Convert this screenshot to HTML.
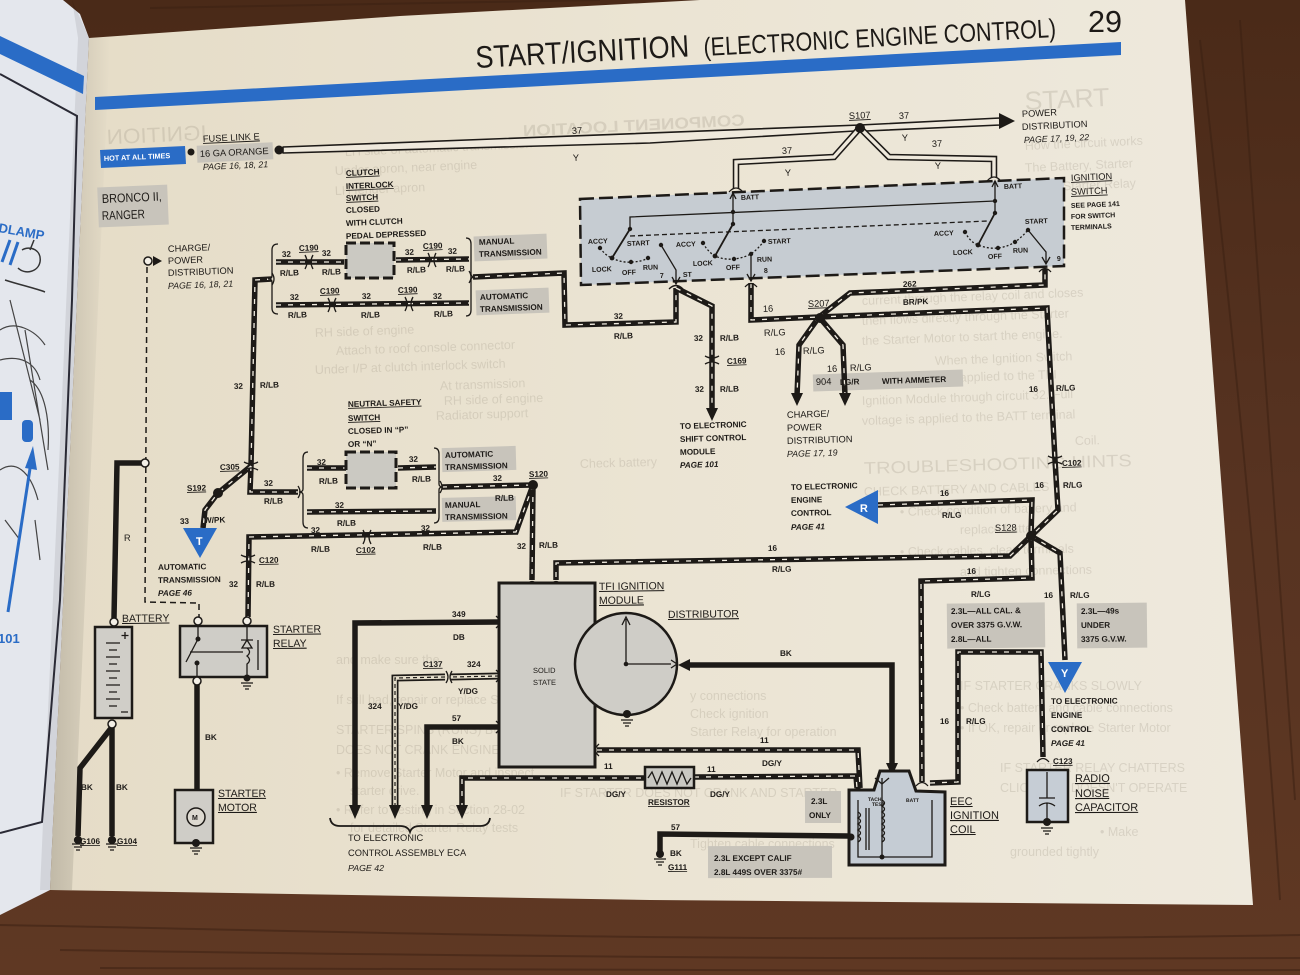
<!DOCTYPE html>
<html><head><meta charset="utf-8">
<style>
html,body{margin:0;padding:0;width:1300px;height:975px;overflow:hidden;background:#573420}
svg{display:block}
text{font-family:"Liberation Sans",Arial,sans-serif;fill:#1d1a17}
#lbl text{font-size:8.2px;font-weight:bold}
#lbl text.r{font-weight:normal;font-size:9.3px}
#lbl text.b{font-weight:normal;font-size:10.5px}
#lbl text.i{font-style:italic;font-weight:bold}
#lbl text.ri{font-style:italic;font-weight:normal;font-size:8.8px}
#lbl text.sm{font-size:7px}
#lbl text.w{fill:#fff}
#ghost text{font-size:12.5px;fill:#968d7d;opacity:0.24}
.u{text-decoration:underline}
.s{fill:none;stroke:#1d1a17;stroke-width:5.5;stroke-linejoin:miter}
.sd{fill:none;stroke:#f2ede2;stroke-width:1.3;stroke-dasharray:5 7}
.k{fill:none;stroke:#1d1a17;stroke-width:5.5;stroke-linejoin:miter}
.t{fill:none;stroke:#1d1a17;stroke-width:1.3}
.gb{fill:#c8c4bb}
.dot{fill:#1d1a17}
.tc{fill:#f3efe6;stroke:#1d1a17;stroke-width:1.5}
</style></head>
<body>
<svg width="1300" height="975" viewBox="0 0 1300 975" xmlns="http://www.w3.org/2000/svg">
<defs>
<linearGradient id="pg" x1="0" y1="0" x2="1" y2="0">
<stop offset="0" stop-color="#e5dcc7"/><stop offset="0.5" stop-color="#ebe4d3"/><stop offset="1" stop-color="#eee9dd"/>
</linearGradient>
<linearGradient id="gut" x1="0" y1="0" x2="1" y2="0">
<stop offset="0" stop-color="#000" stop-opacity="0.16"/><stop offset="1" stop-color="#000" stop-opacity="0"/>
</linearGradient>
<linearGradient id="wood" x1="0" y1="0" x2="0" y2="1">
<stop offset="0" stop-color="#4a2a18"/><stop offset="0.5" stop-color="#573321"/><stop offset="1" stop-color="#5f3823"/>
</linearGradient>
<path id="a1" d="M272,279 L255,280 L251,466"/>
<path id="a2" d="M251,466 L250,492 L298,492"/>
<path id="a3" d="M251,466 L218,493 L205,510 L203,528"/>
<path id="a4" d="M276,262 L344,262"/>
<path id="a5" d="M396,260 L469,259"/>
<path id="a6" d="M276,305 L469,303"/>
<path id="a7" d="M473,277 L564,273 L565,325 L676,322 L676,288"/>
<path id="a8" d="M676,288 L712,306 L712,410"/>
<path id="a9" d="M751,283 L751,320 L819,317"/>
<path id="a10" d="M819,317 L850,293 L1045,285 L1045,269"/>
<path id="a11" d="M819,317 L1047,308 L1055,460 L1058,510 L1031,536"/>
<path id="a12" d="M819,317 L799,345 L797,396"/>
<path id="a13" d="M819,317 L843,345 L845,396"/>
<path id="a14" d="M878,505 L1032,500 L1031,536"/>
<path id="a15" d="M1031,536 L1010,556 L556,563 L556,580"/>
<path id="a16" d="M1031,536 L1032,578 L921,581 L922,782"/>
<path id="a17" d="M1031,536 L1060,553 L1065,660"/>
<path id="a18" d="M930,783 L958,782 L958,652 L1041,652 L1043,757"/>
<path id="a19" d="M307,468 L346,468"/>
<path id="a20" d="M398,468 L436,467"/>
<path id="a21" d="M307,512 L436,511"/>
<path id="a22" d="M442,487 L533,485"/>
<path id="a23" d="M533,485 L516,532 L249,537 L248,617"/>
<path id="a24" d="M533,485 L532,580"/>
<path id="a25" d="M597,750 L858,750 L860,788"/>
<path id="a26" d="M462,808 L462,778 L645,778"/>
<path id="a27" d="M694,777 L856,776 L857,788"/>
<path id="h1" d="M499,676 L451,677 M445,677 L395,678 L395,808"/>
<path id="y2" d="M858,130 L834,157 L736,162 L736,189"/>
<path id="y3" d="M862,130 L889,157 L994,159 L994,178"/>
</defs>

<!-- background wood -->
<rect x="0" y="0" width="1300" height="975" fill="url(#wood)"/>
<g stroke="#3a2012" stroke-width="2" opacity="0.5" fill="none">
<path d="M0,925 C300,930 700,945 1300,935"/><path d="M60,950 C400,955 800,960 1300,958"/>
<path d="M100,968 C500,970 900,972 1300,970"/><path d="M1200,40 C1230,300 1260,600 1280,900"/>
<path d="M1240,20 C1255,250 1275,500 1295,800"/><path d="M150,8 C300,4 450,2 600,0"/>
</g>
<!-- left page -->
<path d="M0,0 L63,0 L80,14 L89,38 L50,890 L0,915 Z" fill="#e4e7ed"/>
<path d="M72,0 L89,38 L50,890 L40,890 L78,38 Z" fill="#000" opacity="0.08"/>
<polygon points="0,36 84,76 83,94 0,54" fill="#2a6cc6"/>
<path d="M0,74 L77,116 L72,300 L60,600 L42,822 L0,833" fill="none" stroke="#2a2a35" stroke-width="2"/>
<text x="-2" y="232" font-size="13" font-weight="bold" style="fill:#2a6cc6" transform="rotate(10 -2 232)">DLAMP</text>
<path d="M10,240 L2,262 M18,242 L10,265" stroke="#2a6cc6" stroke-width="3"/>
<path d="M22,250 C30,245 42,250 40,262 C38,272 25,275 18,268 M30,250 L34,240 M5,280 C20,285 35,288 45,292" fill="none" stroke="#333" stroke-width="1.5"/>
<path d="M0,330 C15,320 35,330 45,345 M0,360 C20,355 35,362 40,380 M10,300 L40,420 M25,330 L48,470 M0,470 C15,460 30,470 38,500 M30,380 C45,390 50,420 48,450 M5,520 L20,540 M35,520 L40,560" fill="none" stroke="#444" stroke-width="1.2"/>
<rect x="0" y="392" width="12" height="28" fill="#2a6cc6"/>
<rect x="22" y="420" width="11" height="22" rx="4" fill="#2a6cc6"/>
<path d="M8,612 L31,462" stroke="#2a6cc6" stroke-width="3"/>
<polygon points="25,468 33,446 37,470" fill="#2a6cc6"/>
<text x="-2" y="643" font-size="13" font-weight="bold" style="fill:#2a6cc6">101</text>
<!-- main page -->
<path d="M89,38 L400,16 L700,0 L1185,0 L1253,905 L650,900 L50,890 Z" fill="url(#pg)"/>
<path d="M89,38 L110,37 L72,890 L50,890 Z" fill="url(#gut)"/>

<!-- ghost bleed-through text -->
<g id="ghost">
<text x="0" y="0" style="font-size:16px;font-weight:bold" textLength="222" lengthAdjust="spacingAndGlyphs" transform="translate(0,131) rotate(-2.8 632 0) matrix(-1 0 0 1 745 0)">COMPONENT LOCATION</text>
<text x="0" y="0" style="font-size:21px" textLength="100" lengthAdjust="spacingAndGlyphs" transform="translate(0,142) rotate(-2.6 157 0) matrix(-1 0 0 1 207 0)">IGNITION</text>
<text x="1025" y="110" style="font-size:26px" textLength="85" lengthAdjust="spacingAndGlyphs" transform="rotate(-2.8 1025 110)">START</text>
<text x="1025" y="150" transform="rotate(-2.6 1025 150)">How the circuit works</text>
<text x="1025" y="172" transform="rotate(-2.5 1025 172)">The Battery, Starter</text>
<text x="1025" y="192" transform="rotate(-2.5 1025 192)">Motor, Starter Relay</text>
<text x="345" y="156" transform="rotate(-2.5 345 156)">LH side of automatic transmission</text>
<text x="335" y="175" transform="rotate(-2.5 335 175)">Under apron, near engine</text>
<text x="335" y="195" transform="rotate(-2.4 335 195)">LH fender apron</text>
<text x="862" y="305" transform="rotate(-2.2 862 305)">current through the relay coil and closes</text>
<text x="862" y="325" transform="rotate(-2.1 862 325)">then flows directly through the Starter</text>
<text x="862" y="345" transform="rotate(-2.1 862 345)">the Starter Motor to start the engine.</text>
<text x="935" y="365" transform="rotate(-2.0 935 365)">When the Ignition Switch</text>
<text x="862" y="385" transform="rotate(-1.9 862 385)">battery voltage is applied to the TFI</text>
<text x="862" y="405" transform="rotate(-1.9 862 405)">Ignition Module through circuit 32. Full</text>
<text x="862" y="425" transform="rotate(-1.8 862 425)">voltage is applied to the BATT terminal</text>
<text x="1075" y="445" transform="rotate(-1.8 1075 445)">Coil.</text>
<text x="864" y="474" style="font-size:17px" textLength="268" lengthAdjust="spacingAndGlyphs" transform="rotate(-1.7 864 474)">TROUBLESHOOTING HINTS</text>
<text x="864" y="496" transform="rotate(-1.6 864 496)">CHECK BATTERY AND CABLES</text>
<text x="900" y="516" transform="rotate(-1.5 900 516)">• Check condition of battery and</text>
<text x="960" y="534" transform="rotate(-1.4 960 534)">replace battery</text>
<text x="900" y="556" transform="rotate(-1.1 900 556)">• Check cables, clean terminals</text>
<text x="960" y="576" transform="rotate(-1.0 960 576)">and tighten connections</text>
<text x="315" y="337" transform="rotate(-2.0 315 337)">      RH side of engine</text>
<text x="336" y="355" transform="rotate(-2.0 336 355)">Attach to roof console connector</text>
<text x="315" y="374" transform="rotate(-1.9 315 374)">Under I/P at clutch interlock switch</text>
<text x="440" y="390" transform="rotate(-1.9 440 390)">At transmission</text>
<text x="444" y="405" transform="rotate(-1.8 444 405)">RH side of engine</text>
<text x="436" y="420" transform="rotate(-1.8 436 420)">Radiator support</text>
<text x="580" y="468" transform="rotate(-1.6 580 468)">Check battery</text>
<text x="336" y="664">and make sure the</text>
<text x="336" y="704">If still bad, repair or replace Starter</text>
<text x="336" y="734">STARTER SPINS (RUNS) BUT NOISE</text>
<text x="336" y="754">DOES NOT CRANK ENGINE</text>
<text x="336" y="777">• Remove Starter Motor and inspect</text>
<text x="350" y="795">starter drive.</text>
<text x="336" y="814">• Refer to Testing in Section 28-02</text>
<text x="350" y="832">for detailed Starter Relay tests</text>
<text x="690" y="700">y connections</text>
<text x="690" y="718">Check ignition</text>
<text x="690" y="736">Starter Relay for operation</text>
<text x="560" y="797">IF STARTER DOES NOT CRANK AND STARTER</text>
<text x="690" y="848">Tighten cable connections</text>
<text x="960" y="690">IF STARTER CRANKS SLOWLY</text>
<text x="960" y="712">• Check battery and cable connections</text>
<text x="960" y="732">• If OK, repair or replace Starter Motor</text>
<text x="1000" y="772">IF STARTER RELAY CHATTERS</text>
<text x="1000" y="792">CLICKS OR DOESN'T OPERATE</text>
<text x="1100" y="836">• Make</text>
<text x="1010" y="856">grounded tightly</text>
</g>

<!-- header -->
<polygon points="95,97 1121,42 1121,55 95,110" fill="#2a6cc6"/>
<text x="476" y="68" font-size="31" textLength="214" lengthAdjust="spacingAndGlyphs" transform="rotate(-3.1 476 68)">START/IGNITION</text>
<text x="704" y="56" font-size="26" textLength="353" lengthAdjust="spacingAndGlyphs" transform="rotate(-3.1 704 56)">(ELECTRONIC ENGINE CONTROL)</text>
<text x="1088" y="32" font-size="31" textLength="34" lengthAdjust="spacingAndGlyphs">29</text>

<!-- gray label boxes -->
<g id="gbx">
<rect class="gb" x="197" y="144" width="76" height="17"/>
<rect class="gb" x="98" y="186" width="70" height="40"/>
<rect class="gb" x="474" y="235" width="73" height="25"/>
<rect class="gb" x="476" y="289" width="73" height="25"/>
<rect class="gb" x="813" y="372" width="150" height="17"/>
<rect class="gb" x="442" y="447" width="74" height="24"/>
<rect class="gb" x="442" y="497" width="74" height="24"/>
<rect class="gb" x="947" y="603" width="98" height="45"/>
<rect class="gb" x="1077" y="603" width="70" height="45"/>
<rect class="gb" x="805" y="791" width="36" height="32"/>
<rect class="gb" x="708" y="846" width="124" height="32"/>
</g>

<!-- hot at all times -->
<polygon points="100,150 185,146 186,164 101,168" fill="#2a6cc6"/>
<circle class="dot" cx="191" cy="152" r="3.5"/>

<!-- ignition switch box -->
<polygon points="580,199 1064,178 1064,266 581,285" fill="#c6ccd2" stroke="#1d1a17" stroke-width="2.5" stroke-dasharray="14 5"/>
<g class="t">
<path d="M630,229 L630,217 L995,201"/>
<path d="M733,193 L733,224 M995,181 L995,213"/>
<path d="M630,236 L988,221" stroke-dasharray="5 3"/>
<path d="M612,258 L630,229 M715,256 L733,224 M978,245 L995,213" stroke-width="1.8"/>
<path d="M600,248 Q606,256 612,258 Q622,263 631,262 Q641,262 648,258" stroke-dasharray="2 2"/>
<path d="M703,243 Q708,252 715,256 Q724,260 734,259 Q743,258 751,254 Q758,249 764,241" stroke-dasharray="2 2"/>
<path d="M965,232 Q970,242 978,245 Q988,249 998,248 Q1007,247 1015,242 Q1022,237 1028,230" stroke-dasharray="2 2"/>
<path d="M661,245 L676,270 L676,283 M672,277 L676,284 L680,277"/>
<path d="M751,254 L751,280 M747,274 L751,281 L755,274"/>
<path d="M1028,230 L1046,252 L1046,263 M1042,257 L1046,264 L1050,257"/>
<path d="M730,199 L733,193 L736,199 M992,187 L995,181 L998,187"/>
</g>
<g class="dot">
<circle cx="733" cy="212" r="2.2"/><circle cx="733" cy="224" r="2.2"/><circle cx="995" cy="201" r="2.2"/><circle cx="995" cy="213" r="2.2"/>
<circle cx="630" cy="229" r="2.2"/><circle cx="612" cy="258" r="2.4"/><circle cx="600" cy="248" r="2.2"/><circle cx="631" cy="262" r="2.2"/><circle cx="648" cy="258" r="2.2"/><circle cx="661" cy="245" r="2.2"/>
<circle cx="703" cy="243" r="2.2"/><circle cx="715" cy="256" r="2.4"/><circle cx="734" cy="259" r="2.2"/><circle cx="751" cy="254" r="2.2"/><circle cx="764" cy="241" r="2.2"/>
<circle cx="965" cy="232" r="2.2"/><circle cx="978" cy="245" r="2.4"/><circle cx="998" cy="248" r="2.2"/><circle cx="1015" cy="242" r="2.2"/><circle cx="1028" cy="230" r="2.2"/>
</g>

<!-- hollow 37 Y wires -->
<polygon points="283,147 860,125 1000,118 1000,125 866,131 855,131 650,143 283,153" fill="#efe9dc" stroke="#1d1a17" stroke-width="1.6" stroke-linejoin="round"/>
<g fill="none" stroke="#1d1a17" stroke-width="6.5"><use href="#y2"/><use href="#y3"/></g>
<g fill="none" stroke="#efe9dc" stroke-width="3.4"><use href="#y2"/><use href="#y3"/></g>
<polygon points="999,113 1015,121 999,129" fill="#1d1a17"/>
<circle class="dot" cx="860" cy="128" r="5"/>
<circle class="dot" cx="279" cy="150" r="4.5"/>
<path class="t" d="M729,192 Q736,184 743,192 M987,181 Q994,173 1001,181" stroke-width="2"/>

<!-- striped wires -->
<g class="s">
<use href="#a1"/><use href="#a2"/><use href="#a3"/><use href="#a4"/><use href="#a5"/><use href="#a6"/><use href="#a7"/><use href="#a8"/><use href="#a9"/><use href="#a10"/><use href="#a11"/><use href="#a12"/><use href="#a13"/><use href="#a14"/><use href="#a15"/><use href="#a16"/><use href="#a17"/><use href="#a18"/><use href="#a19"/><use href="#a20"/><use href="#a21"/><use href="#a22"/><use href="#a23"/><use href="#a24"/><use href="#a25"/><use href="#a26"/><use href="#a27"/>
</g>
<g class="sd">
<use href="#a1"/><use href="#a2"/><use href="#a3"/><use href="#a4"/><use href="#a5"/><use href="#a6"/><use href="#a7"/><use href="#a8"/><use href="#a9"/><use href="#a10"/><use href="#a11"/><use href="#a12"/><use href="#a13"/><use href="#a14"/><use href="#a15"/><use href="#a16"/><use href="#a17"/><use href="#a18"/><use href="#a19"/><use href="#a20"/><use href="#a21"/><use href="#a22"/><use href="#a23"/><use href="#a24"/><use href="#a25"/><use href="#a26"/><use href="#a27"/>
</g>
<!-- hatched Y/DG -->
<g fill="none"><use href="#h1" stroke="#1d1a17" stroke-width="7"/><use href="#h1" stroke="#e6dfcc" stroke-width="3.6"/><use href="#h1" stroke="#1d1a17" stroke-width="1.2" stroke-dasharray="4 3"/></g>

<!-- solid black wires -->
<g class="k">
<path d="M499,622 L355,623 L355,808"/>
<path d="M499,727 L427,727 L427,808"/>
<path d="M688,665 L892,665 L892,766"/>
<path d="M848,836 L660,834 L660,852"/>
<path d="M114,618 L117,463 L142,463"/>
<path d="M112,727 L112,836 M112,727 L80,768 L78,836"/>
<path d="M197,684 L197,790"/>
</g>
<!-- dashed thin -->
<path d="M147,267 L145,602 L199,603 L199,617" fill="none" stroke="#1d1a17" stroke-width="1.5" stroke-dasharray="6 4"/>

<!-- arrowheads -->
<g fill="#1d1a17">
<polygon points="706,408 718,408 712,421"/>
<polygon points="791,393 803,393 797,406"/>
<polygon points="839,393 851,393 845,406"/>
<polygon points="349,805 361,805 355,819"/>
<polygon points="389,805 401,805 395,819"/>
<polygon points="421,805 433,805 427,819"/>
<polygon points="456,805 468,805 462,819"/>
<polygon points="886,763 898,763 892,776"/>
<polygon points="690,659 690,671 678,665"/>
<polygon points="153,256 162,261 153,266"/>
</g>

<!-- connectors -->
<g class="t" stroke-width="2">
<path d="M305,255 Q309,262 305,269 M313,255 Q309,262 313,269"/>
<path d="M428,253 Q432,260 428,267 M436,253 Q432,260 436,267"/>
<path d="M328,298 Q332,305 328,312 M336,298 Q332,305 336,312"/>
<path d="M405,297 Q409,304 405,311 M413,297 Q409,304 413,311"/>
<path d="M363,530 Q367,537 363,544 M371,530 Q367,537 371,544"/>
<path d="M241,555 Q248,559 255,555 M241,563 Q248,559 255,563"/>
<path d="M244,462 Q251,466 258,462 M244,470 Q251,466 258,470"/>
<path d="M705,356 Q712,360 719,356 M705,364 Q712,360 719,364"/>
<path d="M1048,456 Q1055,460 1062,456 M1048,464 Q1055,460 1062,464"/>
<path d="M446,671 Q450,677 446,683 M452,671 Q448,677 452,683"/>
<path d="M526,585 Q532,578 538,585 M550,585 Q556,578 562,585 M669,289 Q676,282 683,289 M745,287 Q751,280 757,287 M1039,272 Q1045,265 1051,272 M1037,762 Q1043,755 1049,762 M851,792 Q858,785 865,792 M916,786 Q922,779 928,786"/>
<path d="M496,616 Q503,622 496,628 M496,670 Q503,676 496,682 M496,721 Q503,727 496,733 M599,744 Q592,750 599,756"/>
<path d="M272,273 Q276,279 272,285 M469,271 Q473,277 469,283"/>
<path d="M298,486 Q302,492 298,498 M440,481 Q444,487 440,493"/>
</g>
<!-- brackets -->
<g class="t">
<path d="M278,244 Q272,244 272,250 L272,276 Q272,279 268,279 Q272,279 272,282 L272,308 Q272,314 278,314"/>
<path d="M466,238 Q471,238 471,244 L471,274 Q471,277 475,277 Q471,277 471,280 L471,310 Q471,316 466,316"/>
<path d="M308,452 Q303,452 303,458 L303,489 Q303,492 299,492 Q303,492 303,495 L303,522 Q303,528 308,528"/>
<path d="M434,448 Q439,448 439,454 L439,484 Q439,487 443,487 Q439,487 439,490 L439,517 Q439,523 434,523"/>
<path d="M330,818 Q331,826 340,826 L400,826 Q408,826 410,832 Q412,826 420,826 L480,826 Q489,826 490,818" stroke-width="1.8"/>
</g>

<!-- splice dots -->
<g class="dot">
<circle cx="820" cy="318" r="5"/><circle cx="1031" cy="536" r="5"/><circle cx="533" cy="485" r="5"/><circle cx="218" cy="493" r="5"/>
</g>

<!-- switches -->
<rect x="346" y="243" width="48" height="35" fill="#cbc9c2" stroke="#1d1a17" stroke-width="3" stroke-dasharray="10 4"/>
<rect x="346" y="452" width="50" height="36" fill="#cbc9c2" stroke="#1d1a17" stroke-width="3" stroke-dasharray="10 4"/>

<!-- blue triangles -->
<polygon points="183,528 217,528 200,558" fill="#2a6cc6"/>
<polygon points="845,507 878,490 878,524" fill="#2a6cc6"/>
<polygon points="1048,662 1082,662 1065,693" fill="#2a6cc6"/>

<!-- TFI module & distributor -->
<rect x="499" y="583" width="96" height="184" fill="#cfcdc7" stroke="#1d1a17" stroke-width="3"/>
<circle cx="626" cy="664" r="51" fill="#cfcdc7" stroke="#1d1a17" stroke-width="2.5"/>
<g class="t"><path d="M626,664 L626,619 M622,625 L626,617 L630,625 M626,664 L671,664"/><path d="M671,660 L677,664 L671,668"/></g>
<circle class="dot" cx="626" cy="664" r="2.3"/>
<circle class="dot" cx="627" cy="714" r="4"/>
<!-- battery -->
<rect x="95" y="627" width="37" height="91" fill="#d0cec8" stroke="#1d1a17" stroke-width="2.5"/>
<g class="t" stroke-width="1.6">
<path d="M106,643 h14 M109,650 h8 M106,657 h14 M109,664 h8 M106,671 h14 M109,678 h8 M106,685 h14 M109,692 h8 M106,699 h14 M109,706 h8"/>
<path d="M125,632 v7 M121.5,635.5 h7 M121,712 h7"/>
</g>
<circle class="tc" cx="114" cy="622" r="4"/><circle class="tc" cx="112" cy="724" r="4"/><circle class="tc" cx="145" cy="463" r="4"/><circle class="tc" cx="148" cy="261" r="4"/>
<!-- starter relay -->
<rect x="180" y="626" width="87" height="51" fill="#cfcdc7" stroke="#1d1a17" stroke-width="2.5"/>
<g class="t">
<path d="M198,625 L198,639 M198,639 L186,662 M197,663 L197,677 M190,652 L243,652" />
<path d="M247,625 L247,640 M241,640 L253,640 M247,640 L242,648 L252,648 Z M247,648 Q252,652 247,656 Q252,660 247,664 L247,677 M258,640 L258,670"/>
</g>
<circle class="dot" cx="198" cy="639" r="2.5"/><circle class="dot" cx="197" cy="663" r="2.5"/><circle class="dot" cx="247" cy="678" r="3.5"/>
<circle class="tc" cx="198" cy="621" r="4"/><circle class="tc" cx="247" cy="621" r="4"/><circle class="tc" cx="197" cy="681" r="4"/>
<!-- starter motor -->
<rect x="175" y="790" width="38" height="53" fill="#cfcdc7" stroke="#1d1a17" stroke-width="2.5"/>
<circle cx="196" cy="817" r="9" fill="#ddd9d0" stroke="#1d1a17" stroke-width="1.5"/>
<text x="192" y="820" font-size="7" font-weight="bold">M</text>
<circle class="dot" cx="196" cy="843" r="4"/>
<!-- resistor -->
<rect x="645" y="767" width="49" height="21" fill="#c9c8c2" stroke="#1d1a17" stroke-width="2.5"/>
<polyline points="648,778 652,772 657,784 662,772 667,784 672,772 677,784 682,772 687,784 691,778" class="t" stroke-width="1.5"/>
<!-- capacitor -->
<rect x="1027" y="770" width="41" height="52" fill="#c6cdd5" stroke="#1d1a17" stroke-width="2.5"/>
<g class="t"><path d="M1047,772 L1047,798 M1039,798 h16 M1039,806 Q1047,800 1055,806 M1047,803 L1047,820"/></g>
<circle class="dot" cx="1047" cy="822" r="4"/>
<!-- ignition coil -->
<path d="M849,790 L874,790 L880,771 L909,771 L916,791 L945,792 L945,865 L849,865 Z" fill="#c5ccd4" stroke="#1d1a17" stroke-width="3"/>
<g class="t">
<path d="M858,800 L858,857 L932,857 L932,800 M882,778 L882,857"/>
<path d="M858,812 q5,3 0,6 q5,3 0,6 q5,3 0,6 q5,3 0,6 q5,3 0,6"/>
<path d="M882,800 q5,3 0,6 q5,3 0,6 q5,3 0,6 q5,3 0,6 q5,3 0,6 q5,3 0,6 q5,3 0,6"/>
<path d="M866,808 L866,850 M869,808 L869,850"/>
<path d="M875,778 L882,784 L889,778"/>
</g>
<circle class="dot" cx="851" cy="837" r="3.5"/><circle class="dot" cx="882" cy="857" r="2.5"/>
<circle class="dot" cx="660" cy="854" r="4"/>
<!-- grounds -->
<g class="t" stroke-width="1.4">
<path d="M72,844 h12 M74,847 h8 M76,850 h4"/><path d="M106,844 h12 M108,847 h8 M110,850 h4"/>
<circle class="dot" cx="78" cy="840" r="3.5"/><circle class="dot" cx="112" cy="840" r="3.5"/>
<path d="M241,683 h12 M243,686 h8 M245,689 h4"/>
<path d="M190,848 h12 M192,851 h8 M194,854 h4"/>
<path d="M621,720 h12 M623,723 h8 M625,726 h4"/>
<path d="M1041,828 h12 M1043,831 h8 M1045,834 h4"/>
<path d="M654,859 h12 M656,862 h8 M658,865 h4"/>
</g>

<!-- labels -->
<g id="lbl">
<text x="104" y="161" class="w" style="font-size:7.3px">HOT AT ALL TIMES</text>
<text x="203" y="142" class="r u">FUSE LINK E</text>
<text x="200" y="157" class="r">16 GA ORANGE</text>
<text x="203" y="170" class="ri">PAGE 16, 18, 21</text>
<text x="572" y="134" class="r">37</text><text x="573" y="161" class="r">Y</text>
<text x="849" y="119" class="r u">S107</text>
<text x="899" y="119" class="r">37</text><text x="902" y="141" class="r">Y</text>
<text x="782" y="154" class="r">37</text><text x="785" y="176" class="r">Y</text>
<text x="932" y="147" class="r">37</text><text x="935" y="169" class="r">Y</text>
<text x="1022" y="117" class="r">POWER</text>
<text x="1022" y="130" class="r">DISTRIBUTION</text>
<text x="1024" y="143" class="ri">PAGE 17, 19, 22</text>
<text x="1071" y="181" class="r u">IGNITION</text>
<text x="1071" y="195" class="r u">SWITCH</text>
<text x="1071" y="208" class="sm">SEE PAGE 141</text>
<text x="1071" y="219" class="sm">FOR SWITCH</text>
<text x="1071" y="230" class="sm">TERMINALS</text>
<text x="102" y="203" style="font-size:12.5px;font-weight:normal" textLength="60" lengthAdjust="spacingAndGlyphs">BRONCO II,</text>
<text x="102" y="220" style="font-size:12.5px;font-weight:normal" textLength="43" lengthAdjust="spacingAndGlyphs">RANGER</text>
<text x="168" y="252" class="r">CHARGE/</text>
<text x="168" y="264" class="r">POWER</text>
<text x="168" y="276" class="r">DISTRIBUTION</text>
<text x="168" y="289" class="ri">PAGE 16, 18, 21</text>
<text x="346" y="176" class="u">CLUTCH</text>
<text x="346" y="189" class="u">INTERLOCK</text>
<text x="346" y="201" class="u">SWITCH</text>
<text x="346" y="213">CLOSED</text>
<text x="346" y="226">WITH CLUTCH</text>
<text x="346" y="239">PEDAL DEPRESSED</text>
<text x="282" y="257">32</text><text x="299" y="251" class="u">C190</text><text x="322" y="256">32</text>
<text x="280" y="276">R/LB</text><text x="322" y="275">R/LB</text>
<text x="405" y="255">32</text><text x="423" y="249" class="u">C190</text><text x="448" y="254">32</text>
<text x="407" y="273">R/LB</text><text x="446" y="272">R/LB</text>
<text x="290" y="300">32</text><text x="320" y="294" class="u">C190</text><text x="362" y="299">32</text><text x="398" y="293" class="u">C190</text><text x="433" y="299">32</text>
<text x="288" y="318">R/LB</text><text x="361" y="318">R/LB</text><text x="434" y="317">R/LB</text>
<text x="479" y="245">MANUAL</text><text x="479" y="257">TRANSMISSION</text>
<text x="480" y="300">AUTOMATIC</text><text x="480" y="312">TRANSMISSION</text>
<text x="614" y="319">32</text><text x="614" y="339">R/LB</text>
<text x="588" y="244" class="sm">ACCY</text><text x="627" y="246" class="sm">START</text><text x="592" y="272" class="sm">LOCK</text><text x="622" y="275" class="sm">OFF</text><text x="643" y="270" class="sm">RUN</text><text x="660" y="278" class="sm">7</text><text x="683" y="277" class="sm">ST</text>
<text x="676" y="247" class="sm">ACCY</text><text x="768" y="244" class="sm">START</text><text x="693" y="266" class="sm">LOCK</text><text x="726" y="270" class="sm">OFF</text><text x="757" y="262" class="sm">RUN</text><text x="764" y="273" class="sm">8</text>
<text x="934" y="236" class="sm">ACCY</text><text x="1025" y="224" class="sm">START</text><text x="953" y="255" class="sm">LOCK</text><text x="988" y="259" class="sm">OFF</text><text x="1013" y="253" class="sm">RUN</text><text x="1057" y="261" class="sm">9</text>
<text x="741" y="200" class="sm">BATT</text><text x="1004" y="189" class="sm">BATT</text>
<text x="694" y="341">32</text><text x="720" y="341">R/LB</text><text x="727" y="364" class="u">C169</text><text x="695" y="392">32</text><text x="720" y="392">R/LB</text>
<text x="680" y="429">TO ELECTRONIC</text><text x="680" y="442">SHIFT CONTROL</text><text x="680" y="455">MODULE</text><text x="680" y="468" class="i">PAGE 101</text>
<text x="808" y="307" class="r u">S207</text><text x="763" y="312" class="r">16</text><text x="764" y="336" class="r">R/LG</text>
<text x="903" y="287">262</text><text x="903" y="305">BR/PK</text>
<text x="775" y="355" class="r">16</text><text x="803" y="354" class="r">R/LG</text><text x="827" y="372" class="r">16</text><text x="850" y="371" class="r">R/LG</text>
<text x="816" y="385" class="r">904</text><text x="840" y="385">LG/R</text><text x="882" y="384">WITH AMMETER</text>
<text x="787" y="418" class="r">CHARGE/</text><text x="787" y="431" class="r">POWER</text><text x="787" y="444" class="r">DISTRIBUTION</text><text x="787" y="457" class="ri">PAGE 17, 19</text>
<text x="1029" y="392">16</text><text x="1056" y="391">R/LG</text><text x="1062" y="466" class="u">C102</text><text x="1035" y="488">16</text><text x="1063" y="488">R/LG</text>
<text x="791" y="490">TO ELECTRONIC</text><text x="791" y="503">ENGINE</text><text x="791" y="516">CONTROL</text><text x="791" y="530" class="i">PAGE 41</text>
<text x="940" y="496">16</text><text x="942" y="518">R/LG</text><text x="995" y="531" class="r u">S128</text>
<text x="768" y="551">16</text><text x="772" y="572">R/LG</text>
<text x="967" y="574">16</text><text x="971" y="597">R/LG</text><text x="1044" y="598">16</text><text x="1070" y="598">R/LG</text>
<text x="951" y="614">2.3L—ALL CAL. &amp;</text><text x="951" y="628">OVER 3375 G.V.W.</text><text x="951" y="642">2.8L—ALL</text>
<text x="1081" y="614">2.3L—49s</text><text x="1081" y="628">UNDER</text><text x="1081" y="642">3375 G.V.W.</text>
<text x="1051" y="704">TO ELECTRONIC</text><text x="1051" y="718">ENGINE</text><text x="1051" y="732">CONTROL</text><text x="1051" y="746" class="i">PAGE 41</text>
<text x="1053" y="764" class="u">C123</text>
<text x="1075" y="782" class="b u" style="font-size:11px">RADIO</text><text x="1075" y="797" class="b u" style="font-size:11px">NOISE</text><text x="1075" y="811" class="b u" style="font-size:11px">CAPACITOR</text>
<text x="950" y="805" class="b u" style="font-size:11px">EEC</text><text x="950" y="819" class="b u" style="font-size:11px">IGNITION</text><text x="950" y="833" class="b u" style="font-size:11px">COIL</text>
<text x="940" y="724">16</text><text x="966" y="724">R/LG</text>
<text x="780" y="656">BK</text>
<text x="868" y="801" style="font-size:5px">TACH</text><text x="872" y="806" style="font-size:5px">TEST</text><text x="906" y="802" style="font-size:5px">BATT</text>
<text x="811" y="804">2.3L</text><text x="809" y="818">ONLY</text>
<text x="671" y="830">57</text><text x="670" y="856">BK</text><text x="668" y="870" class="u">G111</text>
<text x="714" y="861">2.3L EXCEPT CALIF</text><text x="714" y="875">2.8L 449S OVER 3375#</text>
<text x="760" y="743">11</text><text x="762" y="766">DG/Y</text><text x="707" y="772">11</text><text x="710" y="797">DG/Y</text><text x="604" y="769">11</text><text x="606" y="797">DG/Y</text>
<text x="648" y="805" class="u">RESISTOR</text>
<text x="599" y="590" class="b u">TFI IGNITION</text><text x="599" y="604" class="b u">MODULE</text><text x="668" y="618" class="b u">DISTRIBUTOR</text>
<text x="533" y="673" class="r" style="font-size:7.5px">SOLID</text><text x="533" y="685" class="r" style="font-size:7.5px">STATE</text>
<text x="517" y="549">32</text><text x="539" y="548">R/LB</text>
<text x="452" y="617">349</text><text x="453" y="640">DB</text><text x="423" y="667" class="u">C137</text><text x="467" y="667">324</text><text x="458" y="694">Y/DG</text>
<text x="368" y="709">324</text><text x="398" y="709">Y/DG</text><text x="452" y="721">57</text><text x="452" y="744">BK</text>
<text x="348" y="841" class="r">TO ELECTRONIC</text><text x="348" y="856" class="r">CONTROL  ASSEMBLY  ECA</text><text x="348" y="871" class="ri">PAGE 42</text>
<text x="122" y="622" class="b u">BATTERY</text><text x="124" y="541" class="r">R</text>
<text x="81" y="790">BK</text><text x="116" y="790">BK</text><text x="80" y="844" class="u">G106</text><text x="117" y="844" class="u">G104</text>
<text x="273" y="633" class="b u">STARTER</text><text x="273" y="647" class="b u">RELAY</text><text x="205" y="740">BK</text>
<text x="218" y="797" class="b u">STARTER</text><text x="218" y="811" class="b u">MOTOR</text>
<text x="158" y="570">AUTOMATIC</text><text x="158" y="583">TRANSMISSION</text><text x="158" y="596" class="i">PAGE 46</text>
<text x="180" y="524">33</text><text x="204" y="523">W/PK</text><text x="187" y="491" class="u">S192</text><text x="220" y="470" class="u">C305</text>
<text x="234" y="389">32</text><text x="260" y="388">R/LB</text>
<text x="264" y="486">32</text><text x="264" y="504">R/LB</text>
<text x="259" y="563" class="u">C120</text><text x="229" y="587">32</text><text x="256" y="587">R/LB</text>
<text x="311" y="533">32</text><text x="311" y="552">R/LB</text><text x="356" y="553" class="u">C102</text><text x="421" y="531">32</text><text x="423" y="550">R/LB</text>
<text x="529" y="477" class="u">S120</text><text x="493" y="481">32</text><text x="495" y="501">R/LB</text>
<text x="348" y="407" class="u">NEUTRAL SAFETY</text><text x="348" y="421" class="u">SWITCH</text><text x="348" y="434">CLOSED IN “P”</text><text x="348" y="447">OR “N”</text>
<text x="317" y="465">32</text><text x="319" y="484">R/LB</text><text x="409" y="462">32</text><text x="412" y="482">R/LB</text><text x="335" y="508">32</text><text x="337" y="526">R/LB</text>
<text x="445" y="458">AUTOMATIC</text><text x="445" y="470">TRANSMISSION</text><text x="445" y="508">MANUAL</text><text x="445" y="520">TRANSMISSION</text>
<text x="196" y="545" class="w" style="font-size:11px">T</text><text x="860" y="512" class="w" style="font-size:11px">R</text><text x="1061" y="677" class="w" style="font-size:11px">Y</text>
</g>
</svg>
<script>
(function(){
var pts=[[0,-3.1],[200,-2.4],[480,-1.6],[560,-0.9],[750,-0.2],[975,0]];
function ang(y){for(var i=1;i<pts.length;i++){if(y<=pts[i][0]){var a=pts[i-1],b=pts[i];return a[1]+(b[1]-a[1])*(y-a[0])/(b[0]-a[0]);}}return 0;}
var ts=document.querySelectorAll('#lbl text');
for(var i=0;i<ts.length;i++){var t=ts[i];var x=+t.getAttribute('x'),y=+t.getAttribute('y');t.setAttribute('transform','rotate('+ang(y).toFixed(2)+' '+x+' '+y+')');}
var rs=document.querySelectorAll('#gbx rect');
for(var j=0;j<rs.length;j++){var r=rs[j];var cx=+r.getAttribute('x')+(+r.getAttribute('width'))/2,cy=+r.getAttribute('y')+(+r.getAttribute('height'))/2;r.setAttribute('transform','rotate('+ang(cy).toFixed(2)+' '+cx+' '+cy+')');}
})();
</script>
</body></html>
